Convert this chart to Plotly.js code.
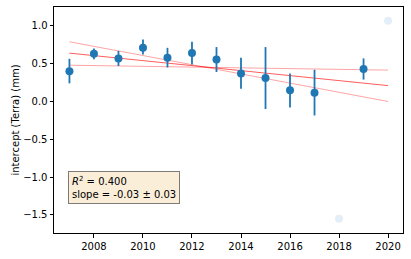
<!DOCTYPE html>
<html><head><meta charset="utf-8">
<script src="https://cdn.plot.ly/plotly-3.0.1.min.js"></script>
<style>html,body{margin:0;padding:0;background:#fff}#c{width:411px;height:259px}</style>
</head><body><div id="c"></div>
<script>
const years = [2007, 2008, 2009, 2010, 2011, 2012, 2013, 2014, 2015, 2016, 2017, 2019];
const values = [0.40, 0.63, 0.57, 0.71, 0.58, 0.64, 0.555, 0.37, 0.31, 0.15, 0.115, 0.43];
const errPlus = [0.165, 0.07, 0.10, 0.11, 0.13, 0.15, 0.165, 0.21, 0.41, 0.22, 0.305, 0.14];
const errMinus = [0.16, 0.07, 0.10, 0.09, 0.13, 0.15, 0.165, 0.20, 0.41, 0.23, 0.30, 0.14];
const outlierYears = [2018, 2020];
const outlierValues = [-1.55, 1.067];
const fitYears = [2007, 2020];
const fitCentral = [0.64, 0.21];
const fitUpper = [0.79, 0.00];
const fitLower = [0.48, 0.415];
const xTicks = [2008, 2010, 2012, 2014, 2016, 2018, 2020];
const yTicks = [-1.5, -1.0, -0.5, 0.0, 0.5, 1.0];

const font = {family: 'DejaVu Sans', size: 10, color: '#000'};
const traces = [
  {x: fitYears, y: fitUpper, mode: 'lines', line: {color: 'rgba(255,0,0,0.45)', width: 0.8}, hoverinfo: 'skip'},
  {x: fitYears, y: fitLower, mode: 'lines', line: {color: 'rgba(255,0,0,0.45)', width: 0.8}, hoverinfo: 'skip'},
  {x: fitYears, y: fitCentral, mode: 'lines', line: {color: 'rgba(255,0,0,0.8)', width: 0.8}, hoverinfo: 'skip'},
  {x: years, y: values, mode: 'markers',
   marker: {color: '#1f77b4', size: 8},
   error_y: {type: 'data', symmetric: false, array: errPlus, arrayminus: errMinus, color: '#1f77b4', thickness: 1.8, width: 0}},
  {x: outlierYears, y: outlierValues, mode: 'markers', marker: {color: 'rgba(31,119,180,0.12)', size: 8}}
];
const layout = {
  width: 411, height: 259,
  margin: {l: 54, r: 8, t: 7, b: 26},
  paper_bgcolor: '#fff', plot_bgcolor: '#fff',
  showlegend: false,
  font: font,
  xaxis: {range: [2006.37, 2020.61], tickvals: xTicks, ticktext: xTicks.map(String),
    showgrid: false, zeroline: false, showline: true, mirror: true, linecolor: '#000', linewidth: 1,
    ticks: 'outside', ticklen: 3.5, tickcolor: '#000', tickfont: font},
  yaxis: {range: [-1.74, 1.25], tickvals: yTicks, ticktext: yTicks.map(v => v.toFixed(1).replace('-', '\u2212')),
    showgrid: false, zeroline: false, showline: true, mirror: true, linecolor: '#000', linewidth: 1,
    ticks: 'outside', ticklen: 3.5, tickcolor: '#000', tickfont: font,
    title: {text: 'intercept (Terra) (mm)', font: font, standoff: 1}},
  annotations: [{
    xref: 'paper', yref: 'paper', x: 0.04, y: 0.128, xanchor: 'left', yanchor: 'bottom',
    align: 'left', showarrow: false,
    text: '<i>R</i><sup>2</sup> = 0.400<br>slope = -0.03 ± 0.03',
    font: font, bgcolor: 'rgba(245,222,179,0.5)', bordercolor: 'rgba(0,0,0,0.5)', borderwidth: 1, borderpad: 3
  }]
};
Plotly.newPlot('c', traces, layout, {staticPlot: true, displayModeBar: false});
</script></body></html>
